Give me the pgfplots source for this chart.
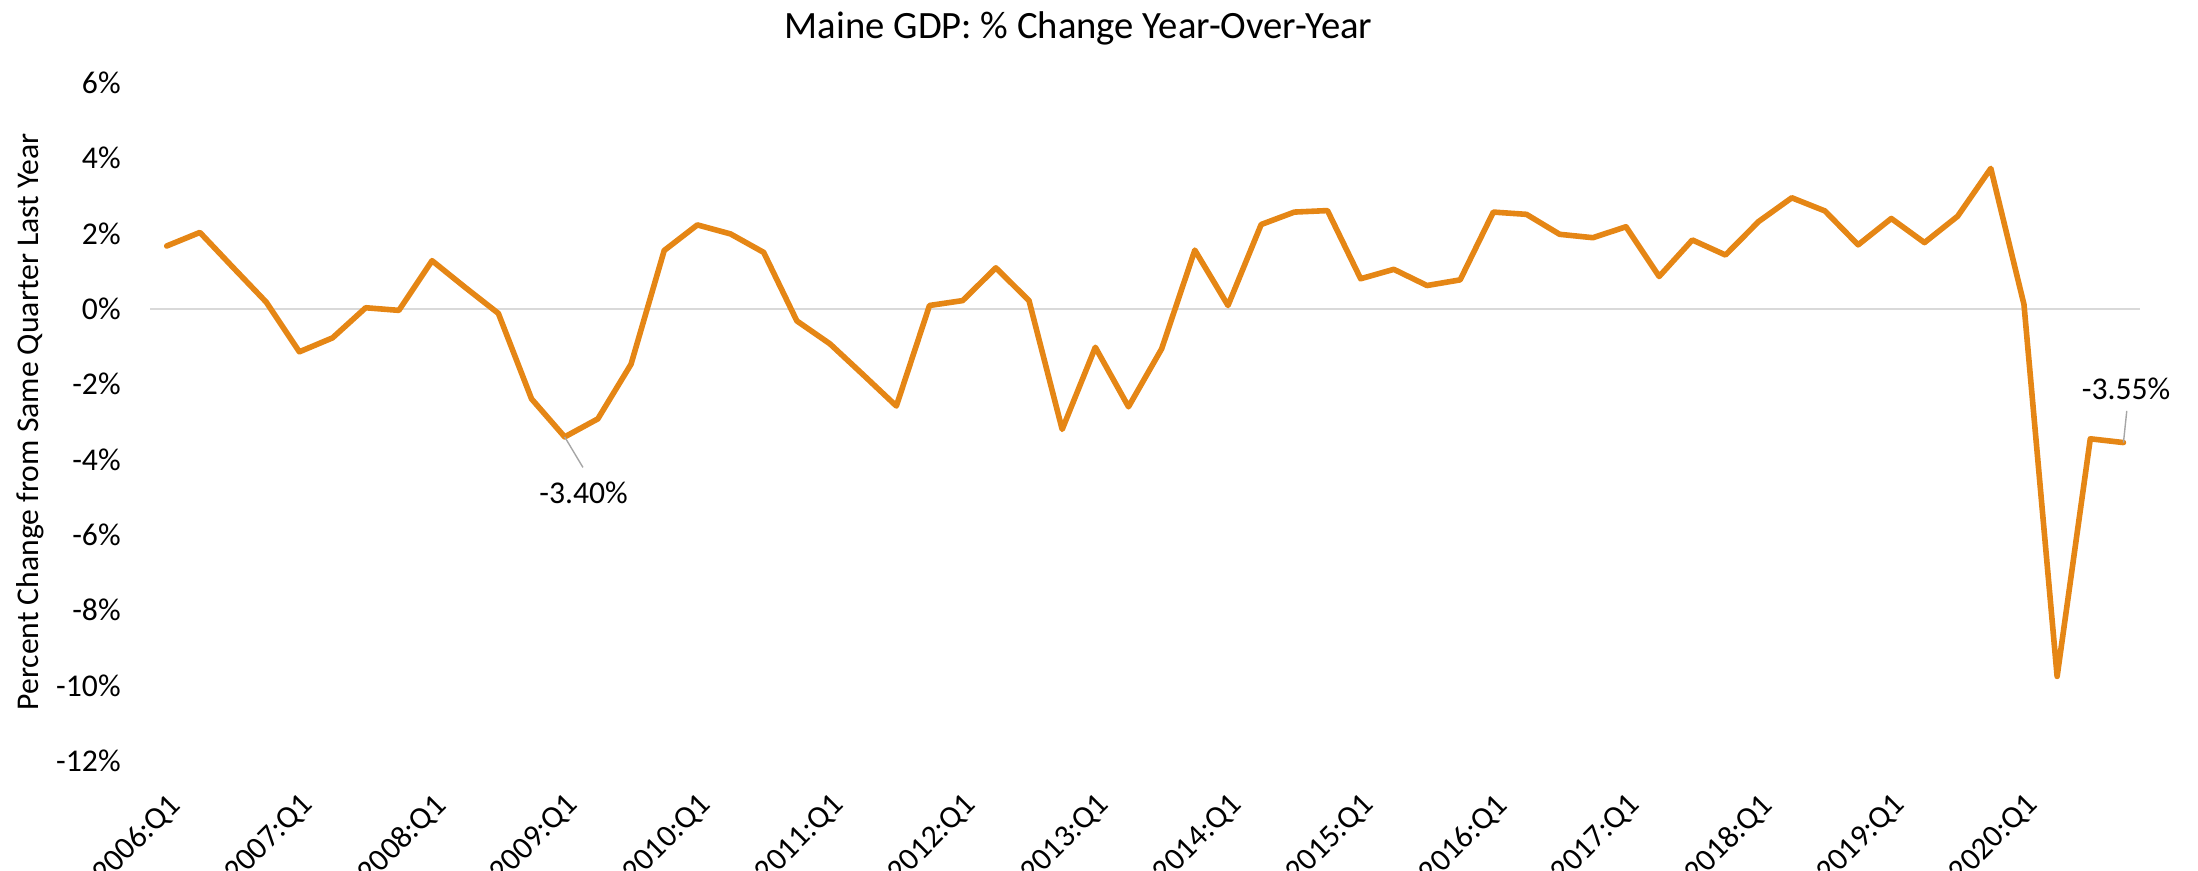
\documentclass[border=0pt]{standalone}
\usepackage{fontspec}
\setmainfont{Carlito}
\usepackage{pgfplots}
\pgfplotsset{compat=1.18}
\definecolor{lineorange}{RGB}{229,134,21}
\definecolor{zerogray}{RGB}{217,217,217}
\definecolor{leadgray}{RGB}{166,166,166}
\begin{document}
\begin{tikzpicture}
\begin{axis}[
  scale only axis,
  width=710.4pt, height=242pt,
  xmin=-0.5, xmax=59.5,
  ymin=-12, ymax=6,
  axis line style={draw=none},
  major tick length=0pt,
  clip=false,
  ytick={-12,-10,-8,-6,-4,-2,0,2,4,6},
  yticklabels={-12\%,-10\%,-8\%,-6\%,-4\%,-2\%,0\%,2\%,4\%,6\%},
  y tick label style={xshift=-7pt},
  xtick={0,4,...,56},
  xticklabels={2006:Q1,2007:Q1,2008:Q1,2009:Q1,2010:Q1,2011:Q1,2012:Q1,2013:Q1,2014:Q1,2015:Q1,2016:Q1,2017:Q1,2018:Q1,2019:Q1,2020:Q1},
  x tick label style={yshift=-6pt, rotate=45, anchor=north east},
  tick label style={font=\fontsize{11.3pt}{13pt}\selectfont, text=black},
  extra y ticks={0},
  extra y tick labels={},
  extra y tick style={grid=major, major grid style={draw=zerogray, line width=0.6pt}},
  title={Maine GDP: \% Change Year-Over-Year},
  title style={font=\fontsize{13.8pt}{16pt}\selectfont, at={(axis description cs:0.4666,1)}, anchor=base, yshift=10pt},
  ylabel={Percent Change from Same Quarter Last Year},
  ylabel style={font=\fontsize{11.3pt}{13pt}\selectfont, at={(axis description cs:-0.0563,0.5)}, anchor=base},
]
\addplot[draw=lineorange, line width=2pt, line join=round, line cap=round, mark=none] coordinates {
(0,1.67) (1,2.03) (2,1.10) (3,0.18) (4,-1.14) (5,-0.77) (6,0.03) (7,-0.04)
(8,1.28) (9,0.57) (10,-0.12) (11,-2.39) (12,-3.40) (13,-2.92) (14,-1.47) (15,1.55)
(16,2.23) (17,1.99) (18,1.50) (19,-0.32) (20,-0.93) (21,-1.75) (22,-2.58) (23,0.09)
(24,0.22) (25,1.09) (26,0.22) (27,-3.20) (28,-1.02) (29,-2.60) (30,-1.06) (31,1.56)
(32,0.09) (33,2.24) (34,2.57) (35,2.61) (36,0.80) (37,1.05) (38,0.62) (39,0.77)
(40,2.57) (41,2.51) (42,1.98) (43,1.89) (44,2.18) (45,0.86) (46,1.83) (47,1.43)
(48,2.32) (49,2.95) (50,2.60) (51,1.70) (52,2.40) (53,1.76) (54,2.46) (55,3.73)
(56,0.12) (57,-9.76) (58,-3.45) (59,-3.55)
};
\draw[leadgray, line width=0.5pt] (axis cs:12,-3.40) -- (axis cs:12.55,-4.21);
\node[font=\fontsize{11.3pt}{13pt}\selectfont] at (axis cs:12.57,-4.88) {-3.40\%};
\draw[leadgray, line width=0.5pt] (axis cs:59,-3.55) -- (axis cs:59.1,-2.71);
\node[font=\fontsize{11.3pt}{13pt}\selectfont] at (axis cs:59.08,-2.12) {-3.55\%};
\end{axis}
\pgfresetboundingbox
\path[use as bounding box] ([shift={(-53.6pt,-39.3pt)}]current axis.south west) rectangle ([shift={(20.7pt,29.6pt)}]current axis.north east);
\end{tikzpicture}
\end{document}
